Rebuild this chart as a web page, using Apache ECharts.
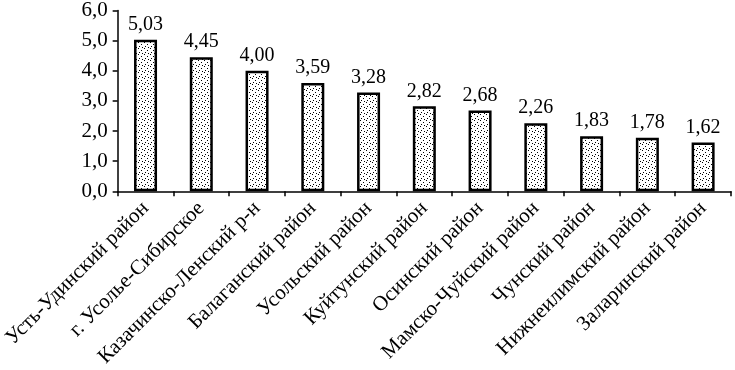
<!DOCTYPE html>
<html><head><meta charset="utf-8">
<script src="https://cdn.jsdelivr.net/npm/echarts@6/dist/echarts.min.js"></script>
<style>html,body{margin:0;padding:0;background:#fff}#c{width:735px;height:370px}</style>
</head><body><div id="c"></div>
<script>
const categories = ["Усть-Удинский район","г. Усолье-Сибирское","Казачинско-Ленский р-н","Балаганский район","Усольский район","Куйтунский район","Осинский район","Мамско-Чуйский район","Чунский район","Нижнеилимский район","Заларинский район"];
const values = [5.03,4.45,4.00,3.59,3.28,2.82,2.68,2.26,1.83,1.78,1.62];
const yTicks = {min:0, max:6, interval:1};

// stipple pattern
const pc = document.createElement('canvas');
pc.width = 6; pc.height = 6;
const g = pc.getContext('2d');
g.fillStyle = '#fff'; g.fillRect(0,0,6,6);
g.fillStyle = '#000';
[[0,0],[3,2],[1,4],[4,5]].forEach(p=>g.fillRect(p[0],p[1],1,1));

const font = 'Liberation Serif';
const chart = echarts.init(document.getElementById('c'), null, {renderer:'canvas'});
chart.setOption({
  animation:false,
  backgroundColor:'#fff',
  grid:{left:114, top:8, right:4, bottom:178, containLabel:false},
  xAxis:{type:'category', data:categories,
    axisLine:{lineStyle:{color:'#000', width:1.5}},
    axisTick:{show:true, alignWithLabel:false, length:5, lineStyle:{color:'#000', width:1.5}},
    axisLabel:{rotate:45, interval:0, color:'#000', fontFamily:font, fontSize:21, margin:14}
  },
  yAxis:{type:'value', min:yTicks.min, max:yTicks.max, interval:yTicks.interval,
    splitLine:{show:false},
    axisLine:{show:true, lineStyle:{color:'#000', width:1.5}},
    axisTick:{show:true, length:5, lineStyle:{color:'#000', width:1.5}},
    axisLabel:{color:'#000', fontFamily:font, fontSize:21, margin:10,
      formatter:v=>v.toFixed(1).replace('.',',')}
  },
  series:[{type:'bar', data:values, barWidth:23,
    itemStyle:{color:{image:pc, repeat:'repeat'}, borderColor:'#000', borderWidth:2.5},
    label:{show:true, position:'top', distance:5, color:'#000', fontFamily:font, fontSize:20,
      formatter:p=>p.value.toFixed(2).replace('.',',')}
  }]
});
</script></body></html>
